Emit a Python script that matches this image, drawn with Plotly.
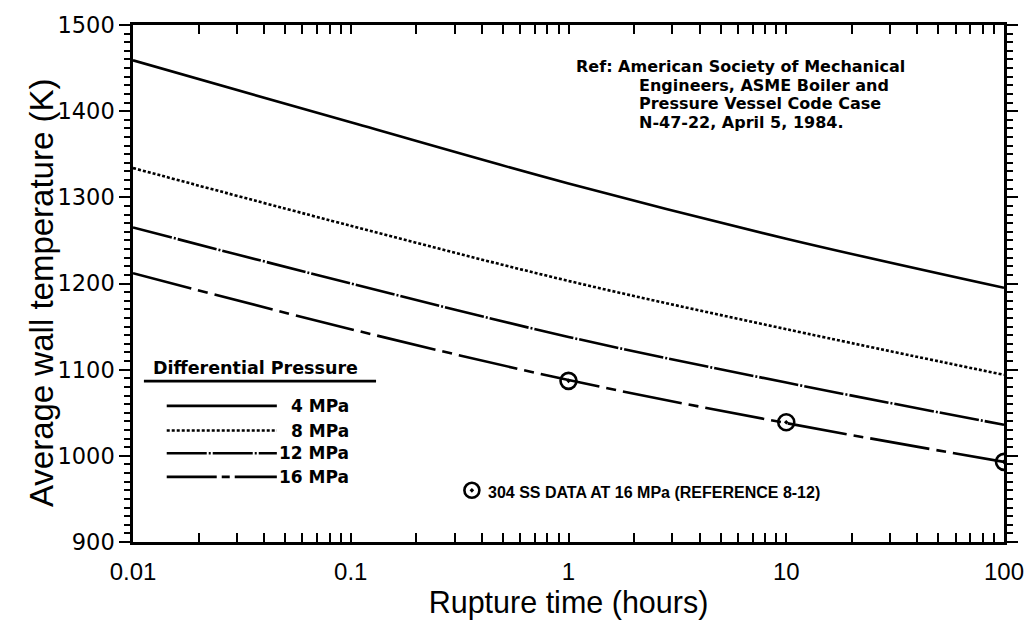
import plotly.graph_objects as go

# Data
time_h = [0.01, 0.1, 1, 10, 100]
t_4mpa = [1459, 1387, 1316, 1252, 1195]
t_8mpa = [1334, 1267, 1203, 1147, 1094]
t_12mpa = [1265, 1200, 1138, 1085, 1036]
t_16mpa = [1212, 1147, 1088, 1038, 993]
data_time = [1, 10, 100]
data_temp = [1087, 1039, 993]
legend_labels = ["4 MPa", "8 MPa", "12 MPa", "16 MPa"]

dashes = ["solid", "3px,2px", "40px,2px,2px,2px", "60px,7px,10px,7px"]
series = [t_4mpa, t_8mpa, t_12mpa, t_16mpa]

fig = go.Figure()
for vals, d, name in zip(series, dashes, legend_labels):
    fig.add_trace(go.Scatter(x=time_h, y=vals, mode="lines", name=name,
                             line=dict(color="black", width=2.6, dash=d, shape="spline", smoothing=1.0),
                             showlegend=False))
fig.add_trace(go.Scatter(x=data_time, y=data_temp, mode="markers", showlegend=False,
                         marker=dict(symbol="circle-open-dot", size=16, color="black",
                                     line=dict(width=2.6, color="black"))))

font = "Liberation Sans, Arial, sans-serif"
bold = "DejaVu Sans, sans-serif"
fig.update_layout(
    width=1036, height=630,
    margin=dict(l=133, r=25, t=18, b=88),
    paper_bgcolor="white", plot_bgcolor="white",
    font=dict(family=font, color="black"),
    xaxis=dict(type="log", range=[-2, 2], showgrid=False, zeroline=False,
               showline=True, linecolor="black", linewidth=2.5, mirror="ticks",
               ticks="inside", ticklen=9, tickwidth=2, tickcolor="black",
               tickvals=[0.01, 0.1, 1, 10, 100], ticktext=["0.01", "0.1", "1", "10", "100"],
               tickfont=dict(size=24), ticklabelstandoff=6,
               minor=dict(ticks="inside", ticklen=9, tickwidth=2, tickcolor="black",
                          tickvals=[m * 10 ** e for e in range(-2, 2) for m in range(2, 10)]),
               title=dict(text="Rupture time (hours)", font=dict(size=30.5), standoff=8)),
    yaxis=dict(range=[900, 1500], showgrid=False, zeroline=False,
               showline=True, linecolor="black", linewidth=2.5, mirror="ticks",
               ticks="outside", ticklen=11, tickwidth=2, tickcolor="black",
               dtick=100, tickfont=dict(size=22.5, family="DejaVu Sans, sans-serif"),
               minor=dict(ticks="outside", ticklen=6, tickwidth=2, tickcolor="black", dtick=10)),
)

def px_x(px):
    return (px - 133) / 878

def px_y(py):
    return 1 - (py - 18) / 524

# Y axis title
fig.add_annotation(xref="paper", yref="paper", x=px_x(41), y=px_y(289), xanchor="center", yanchor="middle",
                   textangle=-90, showarrow=False, text="Average wall temperature (K)",
                   font=dict(size=33, family=font))

# Reference note
ref_lines = ["Ref: American Society of Mechanical",
             "Engineers, ASME Boiler and",
             "Pressure Vessel Code Case",
             "N-47-22, April 5, 1984."]
ref_y = [60, 79, 98, 117]
for i, (s, yy) in enumerate(zip(ref_lines, ref_y)):
    fig.add_annotation(xref="paper", yref="paper", x=px_x(578 if i == 0 else 641), y=px_y(yy),
                       xanchor="left", yanchor="middle", align="left", showarrow=False,
                       text="<b>" + s + "</b>", font=dict(size=16, family=bold))

# Custom legend
fig.add_annotation(xref="paper", yref="paper", x=px_x(151), y=px_y(366), xanchor="left", yanchor="middle",
                   showarrow=False, text="<b>Differential Pressure</b>", font=dict(size=17.5, family=bold))
fig.add_shape(type="line", xref="paper", yref="paper", x0=px_x(144), x1=px_x(378), y0=px_y(379), y1=px_y(379),
              line=dict(color="black", width=2.8))
leg_y = [404, 429, 452, 476]
for ly, d, name in zip(leg_y, dashes, legend_labels):
    fig.add_shape(type="line", xref="paper", yref="paper", x0=px_x(167), x1=px_x(278), y0=px_y(ly), y1=px_y(ly),
                  line=dict(color="black", width=2.6, dash=("50px,5px,8px,5px" if name == "16 MPa" else d)))
    fig.add_annotation(xref="paper", yref="paper", x=px_x(353), y=px_y(ly), xanchor="right", yanchor="middle",
                       showarrow=False, text="<b>" + name + "</b>", font=dict(size=17, family=bold))

# Data note
fig.add_trace(go.Scatter(x=[0.36], y=[960], mode="markers", showlegend=False, hoverinfo="skip",
                         marker=dict(symbol="circle-open-dot", size=15, color="black",
                                     line=dict(width=2.6, color="black"))))
fig.add_annotation(xref="paper", yref="paper", x=px_x(489), y=px_y(492), xanchor="left", yanchor="middle",
                   showarrow=False, text="<b>304 SS DATA AT 16 MPa (REFERENCE 8-12)</b>",
                   font=dict(size=16, family="Liberation Sans Narrow, Liberation Sans, Arial"))

fig.write_html("out.html")
